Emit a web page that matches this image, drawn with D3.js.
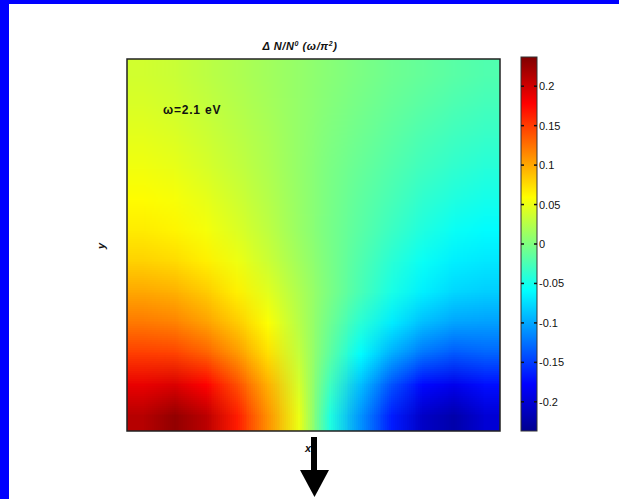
<!DOCTYPE html>
<html lang="en">
<head>
  <meta charset="UTF-8">
  <title>Delta N / N0 map</title>
  <script src="https://d3js.org/d3.v7.min.js"></script>
  <style>
    body { margin: 0; background: #fff; }
    svg { display: block; }
    .lbl { font-family: 'Liberation Sans', Arial, sans-serif; fill: #111; }
  </style>
</head>
<body>
<svg width="619" height="499"></svg>
<script>
const width = 619, height = 499;

// grid coordinates (normalised) and the field, top row first
const xCells = [0, 1, 2, 3, 4, 5, 6, 7, 8, 9, 10, 11];
const yCells = [0, 1, 2, 3, 4, 5, 6, 7, 8, 9, 10, 11];
const field = [
  [0.038, 0.034, 0.028, 0.022, 0.016, 0.010, 0.004, -0.002, -0.008, -0.013, -0.018, -0.022],
  [0.042, 0.038, 0.032, 0.025, 0.018, 0.010, 0.002, -0.005, -0.012, -0.018, -0.024, -0.028],
  [0.047, 0.043, 0.036, 0.028, 0.020, 0.010, 0.000, -0.008, -0.016, -0.024, -0.030, -0.034],
  [0.053, 0.049, 0.041, 0.032, 0.022, 0.010, -0.002, -0.012, -0.021, -0.030, -0.037, -0.042],
  [0.060, 0.056, 0.048, 0.037, 0.025, 0.011, -0.003, -0.015, -0.026, -0.037, -0.045, -0.050],
  [0.068, 0.064, 0.055, 0.043, 0.029, 0.012, -0.004, -0.018, -0.032, -0.045, -0.055, -0.060],
  [0.080, 0.076, 0.066, 0.052, 0.035, 0.016, -0.003, -0.022, -0.040, -0.055, -0.066, -0.070],
  [0.100, 0.096, 0.084, 0.066, 0.046, 0.022, -0.002, -0.026, -0.048, -0.066, -0.078, -0.082],
  [0.122, 0.118, 0.104, 0.084, 0.058, 0.026, -0.008, -0.040, -0.068, -0.090, -0.102, -0.104],
  [0.150, 0.148, 0.134, 0.108, 0.074, 0.032, -0.016, -0.060, -0.098, -0.125, -0.138, -0.132],
  [0.188, 0.195, 0.178, 0.142, 0.096, 0.040, -0.030, -0.090, -0.140, -0.175, -0.188, -0.172],
  [0.212, 0.228, 0.210, 0.165, 0.110, 0.050, -0.045, -0.110, -0.165, -0.208, -0.222, -0.200]
];

const cbTicks = [-0.2, -0.15, -0.1, -0.05, 0, 0.05, 0.1, 0.15, 0.2];
const cbDomain = [-0.237, 0.237];

const plot = { left: 127, top: 59, right: 500, bottom: 431 };
const cbar = { left: 521, right: 537, top: 57, bottom: 431 };

// jet colour map
const jetStops = [0, 0.125, 0.375, 0.625, 0.875, 1];
const jetColors = ["#00008f", "#0000ff", "#00ffff", "#ffff00", "#ff0000", "#800000"];
const tScale = d3.scaleLinear().domain(cbDomain).range([0, 1]).clamp(true);
const jet = d3.scaleLinear().domain(jetStops).range(jetColors).interpolate(d3.interpolateRgb);
const color = v => jet(tScale(v));

const svg = d3.select("svg");

// blue frame of the screenshot
svg.append("rect").attr("x", 0).attr("y", 0).attr("width", width).attr("height", 4).attr("fill", "#0000ff");
svg.append("rect").attr("x", 0).attr("y", 0).attr("width", 9).attr("height", height).attr("fill", "#0000ff");

// heat map: paint one pixel per cell, then let the image scale smoothly
const cv = document.createElement("canvas");
cv.width = xCells.length; cv.height = yCells.length;
const ctx = cv.getContext("2d");
yCells.forEach(r => xCells.forEach(c => {
  ctx.fillStyle = color(field[r][c]);
  ctx.fillRect(c, r, 1, 1);
}));

const x = d3.scaleLinear().domain([0, xCells.length]).range([plot.left, plot.right]);
const y = d3.scaleLinear().domain([0, yCells.length]).range([plot.top, plot.bottom]);

svg.append("image")
  .attr("href", cv.toDataURL())
  .attr("x", x(0)).attr("y", y(0))
  .attr("width", x(xCells.length) - x(0))
  .attr("height", y(yCells.length) - y(0))
  .attr("preserveAspectRatio", "none");

svg.append("rect")
  .attr("x", plot.left).attr("y", plot.top)
  .attr("width", plot.right - plot.left).attr("height", plot.bottom - plot.top)
  .attr("fill", "none").attr("stroke", "#222").attr("stroke-width", 1.5);

// colour bar
const grad = svg.append("defs").append("linearGradient")
  .attr("id", "jetGrad").attr("x1", "0%").attr("x2", "0%").attr("y1", "100%").attr("y2", "0%");
jetStops.forEach((s, i) => grad.append("stop").attr("offset", s * 100 + "%").attr("stop-color", jetColors[i]));

svg.append("rect")
  .attr("x", cbar.left).attr("y", cbar.top)
  .attr("width", cbar.right - cbar.left).attr("height", cbar.bottom - cbar.top)
  .attr("fill", "url(#jetGrad)").attr("stroke", "#333").attr("stroke-width", 1);

const cy = d3.scaleLinear().domain(cbDomain).range([cbar.bottom, cbar.top]);
const cbAxis = d3.axisRight(cy).tickValues(cbTicks).tickSize(0).tickPadding(2)
  .tickFormat(d => d === 0 ? "0" : String(d));
const ga = svg.append("g").attr("transform", `translate(${cbar.right},0)`).call(cbAxis);
ga.select(".domain").remove();
ga.selectAll("text").attr("class", "lbl").style("font-size", "11px").attr("fill", "#111");

// small ticks on both edges of the bar
cbTicks.forEach(t => {
  svg.append("line").attr("x1", cbar.left).attr("x2", cbar.left + 3)
    .attr("y1", cy(t)).attr("y2", cy(t)).attr("stroke", "#111").attr("stroke-width", 1.5);
  svg.append("line").attr("x1", cbar.right - 3).attr("x2", cbar.right)
    .attr("y1", cy(t)).attr("y2", cy(t)).attr("stroke", "#111").attr("stroke-width", 1.5);
});

// title
const title = svg.append("text").attr("class", "lbl")
  .attr("x", 300).attr("y", 50)
  .attr("text-anchor", "middle")
  .style("font-size", "11px").style("font-weight", "bold").style("font-style", "italic")
  .style("letter-spacing", "0.6px");
title.append("tspan").text("Δ N/N");
title.append("tspan").attr("dy", -4).style("font-size", "7px").text("0");
title.append("tspan").attr("dy", 4).text(" (ω/π");
title.append("tspan").attr("dy", -4).style("font-size", "7px").text("2");
title.append("tspan").attr("dy", 4).text(")");

// annotation
svg.append("text").attr("class", "lbl")
  .attr("x", 163).attr("y", 114)
  .style("font-size", "12px").style("font-weight", "bold").style("letter-spacing", "0.8px")
  .text("ω=2.1 eV");

// axis labels
svg.append("text").attr("class", "lbl")
  .attr("transform", "translate(105,246) rotate(-90)")
  .attr("text-anchor", "middle")
  .style("font-size", "11px").style("font-weight", "bold").style("font-style", "italic")
  .text("y");
svg.append("text").attr("class", "lbl")
  .attr("x", 308).attr("y", 452)
  .attr("text-anchor", "middle")
  .style("font-size", "11px").style("font-weight", "bold").style("font-style", "italic")
  .text("x");

// arrow below the plot
svg.append("rect").attr("x", 311).attr("y", 437).attr("width", 6).attr("height", 35).attr("fill", "#000");
svg.append("path").attr("d", "M300,470 L329,470 L314.5,497 Z").attr("fill", "#000");
</script>
</body>
</html>
